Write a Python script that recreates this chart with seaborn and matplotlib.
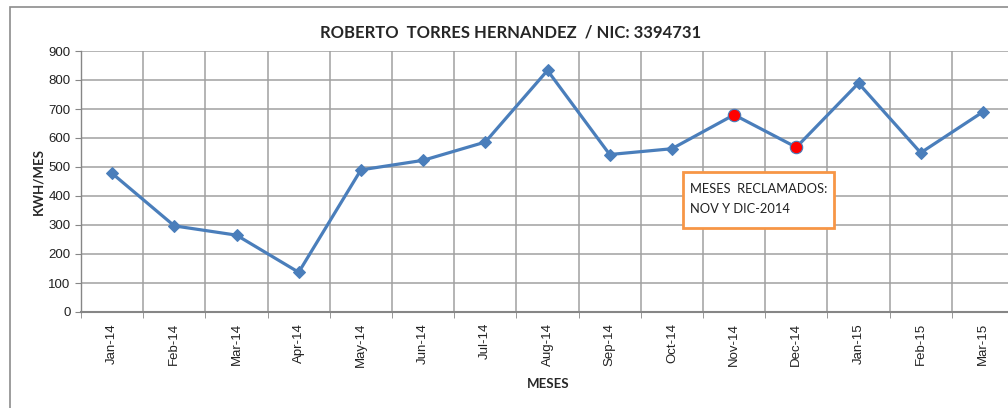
import pandas as pd
import matplotlib.pyplot as plt
import seaborn as sns
from matplotlib.patches import Rectangle
from matplotlib.ticker import FixedLocator

# Monthly consumption data
meses = ['Jan-14', 'Feb-14', 'Mar-14', 'Apr-14', 'May-14', 'Jun-14', 'Jul-14', 'Aug-14',
         'Sep-14', 'Oct-14', 'Nov-14', 'Dec-14', 'Jan-15', 'Feb-15', 'Mar-15']
kwh = [478, 297, 265, 137, 490, 523, 586, 833, 543, 563, 680, 568, 789, 549, 690]
reclamados = ['Nov-14', 'Dec-14']

df = pd.DataFrame({'Mes': meses, 'KWH': kwh})
df_rec = df[df['Mes'].isin(reclamados)]

sns.set_style('white')
plt.rcParams['font.family'] = ['Liberation Sans', 'DejaVu Sans']
narrow = ['Lato', 'DejaVu Sans']

fig = plt.figure(figsize=(10.08, 4.08), dpi=100)
ax = fig.add_axes([81 / 1008, 1 - 312 / 408, 933 / 1008, 261 / 408])

# outer chart frame
fig.patches.append(Rectangle((10 / 1008, -0.1), 1.2, 1 - 7 / 408 + 0.1, transform=fig.transFigure,
                             fill=False, edgecolor='#8c8c8c', linewidth=1.2))

blue = '#4a7ebb'
sns.lineplot(data=df, x='Mes', y='KWH', sort=False, ax=ax, color=blue, linewidth=2.3,
             marker='D', markersize=6.5, markeredgecolor=blue)
sns.scatterplot(data=df_rec, x='Mes', y='KWH', ax=ax, color='#ff0000', s=80,
                edgecolor=blue, linewidth=0.8, zorder=5)

ax.set_xlim(-0.5, len(meses) - 0.5)
ax.set_ylim(0, 900)
ax.set_yticks(range(0, 901, 100))

# vertical grid at category boundaries
ax.xaxis.set_minor_locator(FixedLocator([i + 0.5 for i in range(-1, len(meses))]))
ax.grid(axis='x', which='minor', color='#a0a0a0', linewidth=1.1)
ax.grid(axis='y', which='major', color='#a0a0a0', linewidth=1.1)
ax.set_axisbelow(True)
ax.tick_params(axis='x', which='major', length=0, pad=8, labelsize=9.5, rotation=90, labelcolor='#222222')
ax.tick_params(axis='x', which='minor', length=4, color='#868686', direction='out', bottom=True)
ax.tick_params(axis='y', length=4, color='#868686', direction='out', left=True, labelsize=9.5,
               labelcolor='#222222')

for side in ['top', 'right']:
    ax.spines[side].set_visible(False)
ax.spines['bottom'].set_color('#868686')
ax.spines['bottom'].set_linewidth(1.5)
ax.spines['left'].set_color('#868686')
ax.spines['left'].set_linewidth(1.0)

ax.set_xlabel('MESES', fontweight='bold', fontsize=9.5, family=narrow)
ax.xaxis.set_label_coords((548 - 81) / 933, -(378 - 312) / 261)
ax.set_ylabel('KWH/MES', fontweight='bold', fontsize=9.5, family=narrow)
ax.yaxis.set_label_coords(-(81 - 44) / 933, 0.5)

fig.text(511 / 1008, 1 - 33 / 408, 'ROBERTO  TORRES HERNANDEZ  / NIC: 3394731', ha='center', va='center',
         fontweight='bold', fontsize=12, family=narrow)

# annotation box
fig.patches.append(Rectangle((683 / 1008, 1 - 228 / 408), 151 / 1008, 56 / 408, transform=fig.transFigure,
                             facecolor='white', edgecolor='#f79646', linewidth=2, zorder=10))
fig.text(690 / 1008, 1 - 199 / 408, 'MESES  RECLAMADOS:\nNOV Y DIC-2014', ha='left', va='center',
         fontsize=9.3, family=narrow, linespacing=1.75, color='#222222', zorder=11)

plt.savefig('out.png', dpi=100)
